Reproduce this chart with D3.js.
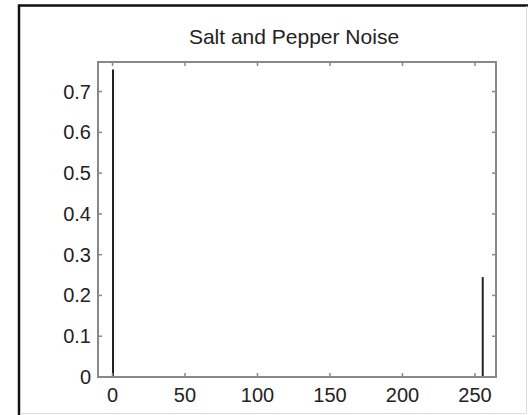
<!DOCTYPE html>
<html>
<head>
<meta charset="utf-8">
<script src="https://cdn.jsdelivr.net/npm/d3@7"></script>
<style>
  body { margin: 0; background: #fff; }
  text { font-family: "Liberation Sans", Arial, sans-serif; fill: #222; }
</style>
</head>
<body>
<div id="chart"></div>
<script>
// histogram of a salt & pepper noise image: only the 0 and 255 bins are filled
var bins = [0, 255];
var freq = [0.754, 0.245];
var xTicks = [0, 50, 100, 150, 200, 250];
var yTicks = [0, 0.1, 0.2, 0.3, 0.4, 0.5, 0.6, 0.7];
var title = "Salt and Pepper Noise";

var W = 528, H = 415;
var margin = { top: 62, right: 32, bottom: 38, left: 98 };
var width = W - margin.left - margin.right,
	height = H - margin.top - margin.bottom;

var svg = d3.select("#chart").append("svg")
	.attr("width", W)
	.attr("height", H);

// outer figure frame
svg.append("path")
	.attr("d", "M19,415 V5.5 H528")
	.attr("fill", "none")
	.style("stroke", "#111")
	.style("stroke-width", "2.5px");
svg.append("path")
	.attr("d", "M20,413.5 H526.5 V6")
	.attr("fill", "none")
	.style("stroke", "#ddd")
	.style("stroke-width", "1px");

var g = svg.append("g")
	.attr("transform", "translate(" + margin.left + "," + margin.top + ")");

var x = d3.scaleLinear().domain([-10, 264.5]).range([0, width]);
var y = d3.scaleLinear().domain([0, 0.7725]).range([height, 0]);

// bars (stems)
g.selectAll("line.bar")
	.data(bins)
	.enter().append("line")
	.attr("class", "bar")
	.attr("x1", function(d) { return x(d) + 0.5; })
	.attr("x2", function(d) { return x(d) + 0.5; })
	.attr("y1", y(0))
	.attr("y2", function(d, i) { return y(freq[i]); })
	.style("stroke", "#222")
	.style("stroke-width", "2px");

var axisCol = "#888";

// box
g.append("rect")
	.attr("width", width)
	.attr("height", height)
	.attr("fill", "none")
	.style("stroke", axisCol)
	.style("stroke-width", "2px");

// ticks inside the box on all four sides
g.selectAll("line.xt")
	.data(xTicks)
	.enter().append("line")
	.attr("x1", function(d) { return x(d); })
	.attr("x2", function(d) { return x(d); })
	.attr("y1", height).attr("y2", height - 4)
	.style("stroke", axisCol).style("stroke-width", "1.5px");
g.selectAll("line.xt2")
	.data(xTicks)
	.enter().append("line")
	.attr("x1", function(d) { return x(d); })
	.attr("x2", function(d) { return x(d); })
	.attr("y1", 0).attr("y2", 4)
	.style("stroke", axisCol).style("stroke-width", "1.5px");
g.selectAll("line.yt")
	.data(yTicks)
	.enter().append("line")
	.attr("y1", function(d) { return y(d); })
	.attr("y2", function(d) { return y(d); })
	.attr("x1", 0).attr("x2", 4)
	.style("stroke", axisCol).style("stroke-width", "1.5px");
g.selectAll("line.yt2")
	.data(yTicks)
	.enter().append("line")
	.attr("y1", function(d) { return y(d); })
	.attr("y2", function(d) { return y(d); })
	.attr("x1", width).attr("x2", width - 4)
	.style("stroke", axisCol).style("stroke-width", "1.5px");

// tick labels
g.selectAll("text.xl")
	.data(xTicks)
	.enter().append("text")
	.attr("x", function(d) { return x(d); })
	.attr("y", height + 25)
	.attr("text-anchor", "middle")
	.style("font-size", "20px")
	.text(function(d) { return d; });
g.selectAll("text.yl")
	.data(yTicks)
	.enter().append("text")
	.attr("x", -7)
	.attr("y", function(d) { return y(d) + 7; })
	.attr("text-anchor", "end")
	.style("font-size", "20px")
	.text(function(d) { return d; });

svg.append("text")
	.attr("x", 294)
	.attr("y", 44)
	.attr("text-anchor", "middle")
	.style("font-size", "21px")
	.text(title);
</script>
</body>
</html>
